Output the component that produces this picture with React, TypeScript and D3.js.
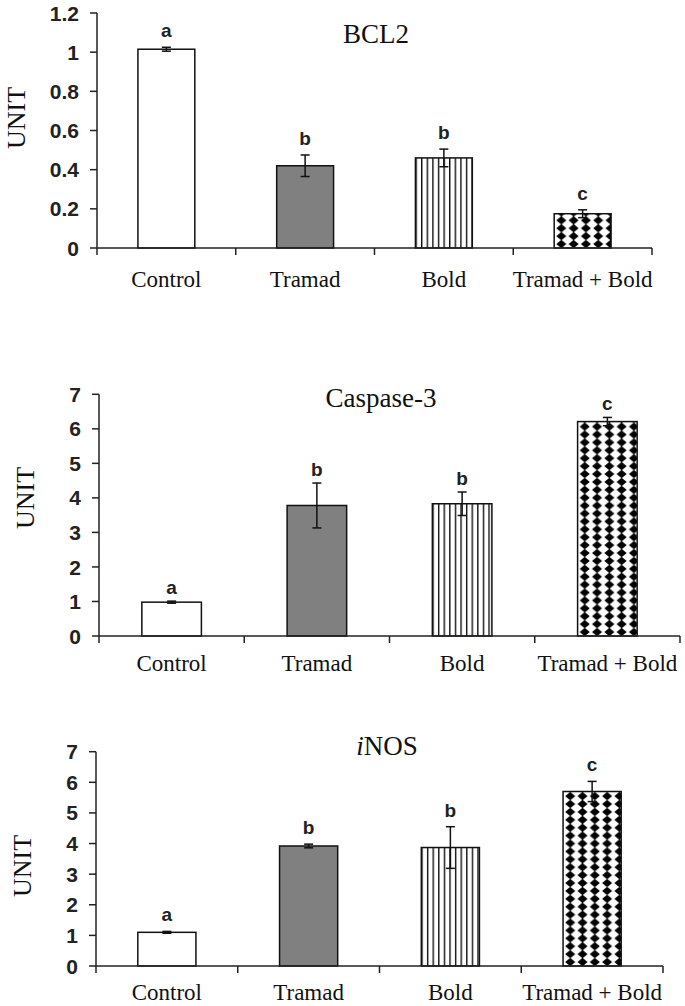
import React from "react";
import * as d3 from "d3";

const categories = ["Control", "Tramad", "Bold", "Tramad + Bold"];
const letters = ["a", "b", "b", "c"];

const bcl2Values = [1.015, 0.42, 0.46, 0.175];
const bcl2Errors = [0.01, 0.055, 0.045, 0.02];
const bcl2Ticks = [0, 0.2, 0.4, 0.6, 0.8, 1, 1.2];
const bcl2TickLabels = ["0", "0.2", "0.4", "0.6", "0.8", "1", "1.2"];

const caspValues = [0.98, 3.78, 3.83, 6.21];
const caspErrors = [0.03, 0.65, 0.34, 0.12];
const caspTicks = [0, 1, 2, 3, 4, 5, 6, 7];
const caspTickLabels = ["0", "1", "2", "3", "4", "5", "6", "7"];

const inosValues = [1.1, 3.92, 3.87, 5.7];
const inosErrors = [0.03, 0.06, 0.68, 0.33];
const inosTicks = [0, 1, 2, 3, 4, 5, 6, 7];
const inosTickLabels = ["0", "1", "2", "3", "4", "5", "6", "7"];

const SERIF = "'Liberation Serif', 'Times New Roman', serif";
const SANS = "'Liberation Sans', Arial, sans-serif";

type ChartProps = {
  id: string;
  values: number[];
  errors: number[];
  ticks: number[];
  tickLabels: string[];
  max: number;
  x0: number;
  x1: number;
  yTop: number;
  y0: number;
  title: React.ReactNode;
  titleX: number;
  titleY: number;
  unitX: number;
  unitY: number;
  catY: number;
  letterGap: number;
};

function Chart(p: ChartProps) {
  const x = d3
    .scaleBand<string>()
    .domain(categories)
    .range([p.x0, p.x1])
    .paddingInner(0.59)
    .paddingOuter(0.295);
  const y = d3.scaleLinear().domain([0, p.max]).range([p.y0, p.yTop]);
  const step = x.step();
  const bw = x.bandwidth();
  const fills = ["#ffffff", "#808080", `url(#${p.id}-stripe)`, `url(#${p.id}-diam)`];
  const boldX = x(categories[2])!;
  const diamX = x(categories[3])!;
  const catTicks = d3.range(categories.length + 1).map((i) => p.x0 + i * step);
  return (
    <g>
      <defs>
        <pattern id={`${p.id}-stripe`} patternUnits="userSpaceOnUse" x={boldX} y={0} width={5.6} height={10}>
          <rect width={5.6} height={10} fill="#fff" />
          <rect x={0} width={1.4} height={10} fill="#111" />
        </pattern>
        <pattern id={`${p.id}-diam`} patternUnits="userSpaceOnUse" x={diamX + 1} y={p.y0} width={12.3} height={7.9}>
          <rect width={12.3} height={7.9} fill="#fff" />
          <path d={`M${6.15 - 5.0},3.95 L6.15,${3.95 - 4.2} L${6.15 + 5.0},3.95 L6.15,${3.95 + 4.2} Z`} fill="#000" />
        </pattern>
      </defs>
      <text x={p.titleX} y={p.titleY} textAnchor="middle" fontFamily={SERIF} fontSize={27} fill="#111">
        {p.title}
      </text>
      <text
        transform={`translate(${p.unitX},${p.unitY}) rotate(-90)`}
        textAnchor="middle"
        dy="0.33em"
        fontFamily={SERIF}
        fontSize={26}
        fill="#111"
      >
        UNIT
      </text>
      {categories.map((c, i) => (
        <rect
          key={c}
          x={x(c)!}
          y={y(p.values[i])}
          width={bw}
          height={p.y0 - y(p.values[i])}
          fill={fills[i]}
          stroke="#111"
          strokeWidth={1.5}
        />
      ))}
      {categories.map((c, i) => {
        const cx = x(c)! + bw / 2;
        const yt = y(p.values[i] + p.errors[i]);
        const yb = y(p.values[i] - p.errors[i]);
        return (
          <g key={c} stroke="#111" strokeWidth={1.5}>
            <line x1={cx} x2={cx} y1={yt} y2={yb} />
            <line x1={cx - 4.5} x2={cx + 4.5} y1={yt} y2={yt} />
            <line x1={cx - 4.5} x2={cx + 4.5} y1={yb} y2={yb} />
          </g>
        );
      })}
      {categories.map((c, i) => (
        <text
          key={c}
          x={x(c)! + bw / 2}
          y={y(p.values[i] + p.errors[i]) - p.letterGap}
          textAnchor="middle"
          fontFamily={SANS}
          fontWeight="bold"
          fontSize={19}
          fill="#222"
        >
          {letters[i]}
        </text>
      ))}
      <line x1={p.x0} x2={p.x0} y1={p.yTop} y2={p.y0} stroke="#222" strokeWidth={1.5} />
      {p.ticks.map((t, i) => (
        <g key={t}>
          <line x1={p.x0 - 7} x2={p.x0} y1={y(t)} y2={y(t)} stroke="#222" strokeWidth={1.5} />
          <text
            x={p.x0 - 18}
            y={y(t)}
            dy="0.36em"
            textAnchor="end"
            fontFamily={SANS}
            fontWeight="bold"
            fontSize={21}
            fill="#222"
          >
            {p.tickLabels[i]}
          </text>
        </g>
      ))}
      <line x1={p.x0} x2={p.x1} y1={p.y0} y2={p.y0} stroke="#222" strokeWidth={1.5} />
      {catTicks.map((tx, i) => (
        <line key={i} x1={tx} x2={tx} y1={p.y0} y2={p.y0 + 7} stroke="#222" strokeWidth={1.5} />
      ))}
      {categories.map((c) => (
        <text
          key={c}
          x={x(c)! + bw / 2}
          y={p.catY}
          textAnchor="middle"
          fontFamily={SERIF}
          fontSize={23}
          fill="#111"
        >
          {c}
        </text>
      ))}
    </g>
  );
}

export default function App() {
  return (
    <svg
      width={685}
      height={1006}
      style={{ position: "absolute", left: 0, top: 0, background: "#fff" }}
    >
      <rect width={685} height={1006} fill="#fff" />
      <Chart
        id="bcl2"
        values={bcl2Values}
        errors={bcl2Errors}
        ticks={bcl2Ticks}
        tickLabels={bcl2TickLabels}
        max={1.2}
        x0={97}
        x1={652}
        yTop={13}
        y0={248}
        title="BCL2"
        titleX={376}
        titleY={43}
        unitX={16}
        unitY={118}
        catY={287}
        letterGap={10}
      />
      <Chart
        id="casp"
        values={caspValues}
        errors={caspErrors}
        ticks={caspTicks}
        tickLabels={caspTickLabels}
        max={7}
        x0={99}
        x1={680}
        yTop={394.3}
        y0={636}
        title="Caspase-3"
        titleX={381}
        titleY={407}
        unitX={25}
        unitY={498}
        catY={671}
        letterGap={7}
      />
      <Chart
        id="inos"
        values={inosValues}
        errors={inosErrors}
        ticks={inosTicks}
        tickLabels={inosTickLabels}
        max={7}
        x0={96}
        x1={663}
        yTop={751.7}
        y0={966}
        title={
          <>
            <tspan fontStyle="italic">i</tspan>NOS
          </>
        }
        titleX={387}
        titleY={755}
        unitX={22}
        unitY={866}
        catY={1000}
        letterGap={10}
      />
    </svg>
  );
}
